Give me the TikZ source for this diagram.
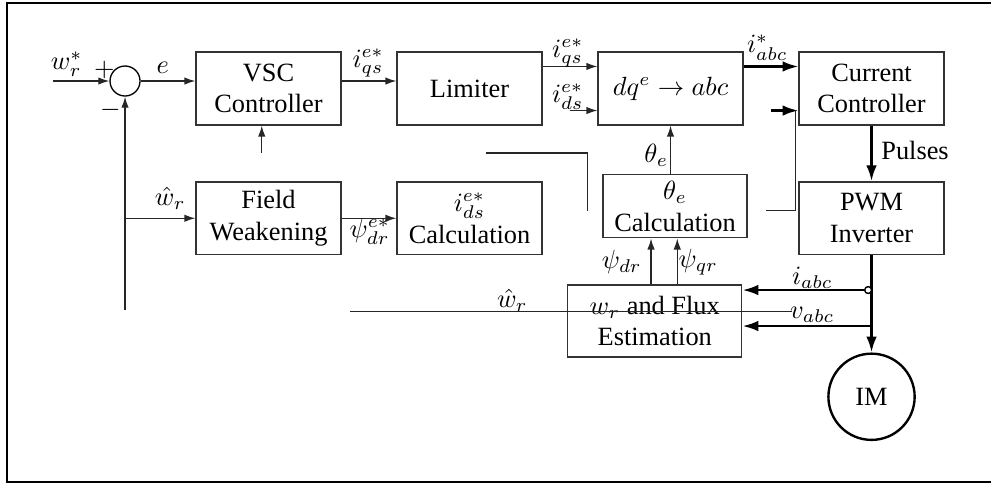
\documentclass[tikz,border=0pt]{standalone}
\usepackage{amsmath}
\usepackage{fontspec}
\setmainfont{Liberation Serif}
\usetikzlibrary{arrows.meta, positioning}

\begin{document}
\begin{tikzpicture}[
          frame/.style={draw=black, line width=0.9pt},
          block/.style={
              draw=black!80,
              fill=white,
              line width=0.5pt,
              minimum width=1.93cm,
              minimum height=0.97cm,
              inner sep=1pt,
              align=center
            },
          sumnode/.style={
              circle,
              draw=black,
              line width=0.5pt,
              minimum size=0.4cm,
              inner sep=0pt
            },
          machine/.style={
              circle,
              draw=black,
              line width=0.9pt,
              minimum size=1.15cm,
              inner sep=0pt
            },
          tapnode/.style={circle, draw=black, fill=white, line width=0.5pt, minimum size=0.09cm, inner sep=0pt},
          arr/.style={-{Latex[length=4.2pt, width=2.8pt]}, black!85, line width=0.5pt},
          powerarr/.style={-{Latex[length=6pt, width=4pt]}, black, line width=1pt},
          wire/.style={black!85, line width=0.5pt},
          lbl/.style={inner sep=0pt}
        ]
        \useasboundingbox (0,0) rectangle (13.213,-6.467);
        \draw[frame] (0.093,-0.04) rectangle (13.4,-6.427);

        % control path
        \node[sumnode] (sum) at (1.667,-1.08) {};
        \node[block] (vsc) at (3.58,-1.18) {VSC\\Controller};
        \node[block] (lim) at (6.26,-1.18) {Limiter};
        \node[block] (dq) at (8.94,-1.18) {$dq^e\rightarrow abc$};
        \node[block] (cc) at (11.62,-1.18) {Current\\Controller};

        \node[block] (fw) at (3.58,-2.91) {Field\\Weakening};
        \node[block] (idcalc) at (6.26,-2.91) {$i_{ds}^{e*}$\\Calculation};
        \node[block, minimum width=1.92cm, minimum height=0.84cm] (theta) at (9.0,-2.75) {$\theta_e$\\Calculation};
        \node[block] (pwm) at (11.62,-2.91) {PWM\\Inverter};

        \node[block, minimum width=2.32cm, minimum height=0.96cm] (est) at (8.73,-4.28) {$w_r$ and Flux\\Estimation};
        \node[machine] (im) at (11.62,-5.29) {IM};
        \node[tapnode] (tap) at (11.575,-3.867) {};

        \coordinate (ref) at (0.71,-1.08);
        \coordinate (vscin) at (3.49,-2.04);
        \coordinate (fbend) at (1.667,-4.13);
        \coordinate (wstart) at (4.67,-4.15);
        \coordinate (wend) at (10.56,-4.15);

        \draw[arr] (ref) -- (sum.west);
        \draw[arr] (sum.east) -- (sum.east -| vsc.west);
        \draw[arr] (vsc.east |- sum) -- (lim.west |- sum);
        \draw[arr] ([yshift=-0.2cm]lim.north east) -- ([yshift=-0.2cm]dq.north west);
        \draw[arr] ([xshift=-0.37cm, yshift=0.2cm]dq.south west) -- ([yshift=0.2cm]dq.south west);
        \draw[powerarr] ([yshift=-0.2cm]dq.north east) -- ([yshift=-0.2cm]cc.north west);
        \draw[powerarr] ([xshift=-0.36cm, yshift=0.2cm]cc.south west) -- ([yshift=0.2cm]cc.south west);
        \draw[arr] (vscin) -- (vscin |- vsc.south);

        % feedback
        \draw[arr] (fbend) -- (sum.south);
        \draw[arr] (sum |- fw) -- (fw.west);
        \draw[arr] (fw.east) -- (idcalc.west);
        \draw[arr] (dq.south |- theta.north) -- (dq.south);

        % loose ends
        \draw[wire] (6.48,-2.04) -- (7.83,-2.04) -- (7.83,-2.81);
        \draw[wire] (10.61,-1.467) -- (10.61,-2.81) -- (10.21,-2.81);
        \draw[wire] (wstart) -- (wend);

        % power side
        \draw[powerarr] (cc.south) -- (pwm.north);
        \draw[powerarr] (pwm.south) -- (im.north);
        \draw[powerarr] (tap.west) -- (tap.west -| est.east);
        \draw[powerarr] (11.62,-4.347) -- (est.east |- 0,-4.347);
        \draw[arr] ([xshift=-0.05cm]est.north) -- ([xshift=-0.05cm]est.north |- theta.south);
        \draw[arr] ([xshift=0.30cm]est.north) -- ([xshift=0.30cm]est.north |- theta.south);
        \node[tapnode] (tapfront) at (tap) {};

        % labels
        \node[lbl] (lwref) at (0.89,-0.85) {$w_r^*$};
        \node[lbl] (lplus) at (1.39,-0.93) {$+$};
        \node[lbl] (lminus) at (1.47,-1.47) {$-$};
        \node[lbl] (le) at (2.17,-0.91) {$e$};
        \node[lbl] (liqa) at (4.91,-0.84) {$i_{qs}^{e*}$};
        \node[lbl] (liqb) at (7.57,-0.71) {$i_{qs}^{e*}$};
        \node[lbl] (lid) at (7.57,-1.29) {$i_{ds}^{e*}$};
        \node[lbl] (liabcref) at (10.23,-0.63) {$i_{abc}^*$};
        \node[lbl] (lwhat) at (2.27,-2.64) {$\hat{w}_r$};
        \node[lbl] (lpsiref) at (4.93,-3.09) {$\psi_{dr}^{e*}$};
        \node[lbl] (ltheta) at (8.75,-2.07) {$\theta_e$};
        \node[lbl] (lpulses) at (12.2,-2.0) {Pulses};
        \node[lbl] (lpsid) at (8.29,-3.49) {$\psi_{dr}$};
        \node[lbl] (lpsiq) at (9.31,-3.49) {$\psi_{qr}$};
        \node[lbl] (liabc) at (10.83,-3.71) {$i_{abc}$};
        \node[lbl] (lvabc) at (10.83,-4.2) {$v_{abc}$};
        \node[lbl] (lwest) at (6.83,-4.0) {$\hat{w}_r$};
      \end{tikzpicture}
\end{document}
